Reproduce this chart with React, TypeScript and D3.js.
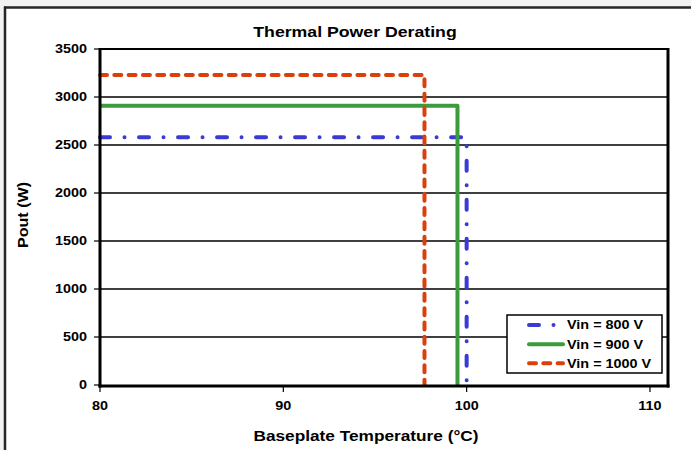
import React from "react";
import * as d3 from "d3";

const xTicks = [80, 90, 100, 110];
const yTicks = [0, 500, 1000, 1500, 2000, 2500, 3000, 3500];
const seriesNames = ["Vin = 800 V", "Vin = 900 V", "Vin = 1000 V"];
const temp800 = [80, 100, 100];
const pout800 = [2580, 2580, 0];
const temp900 = [80, 99.5, 99.5];
const pout900 = [2910, 2910, 0];
const temp1000 = [80, 97.7, 97.7];
const pout1000 = [3230, 3230, 0];

const W = 691;
const H = 450;
const FONT = "'Liberation Sans', Arial, sans-serif";
const SX = 1.2;

export default function App() {
  const x = d3.scaleLinear().domain([80, 111]).range([100, 668.3]);
  const y = d3.scaleLinear().domain([0, 3500]).range([385, 49]);
  const line = d3
    .line<[number, number]>()
    .x((d) => x(d[0]))
    .y((d) => y(d[1]));

  const series = [
    { name: seriesNames[0], t: temp800, p: pout800, color: "#3a3ad6", dash: "10,14.5,0.01,14.5" },
    { name: seriesNames[1], t: temp900, p: pout900, color: "#3c9b3c", dash: "" },
    { name: seriesNames[2], t: temp1000, p: pout1000, color: "#d9400c", dash: "7,7.3" },
  ];

  const txt = (
    tx: number,
    ty: number,
    s: string,
    size: number,
    anchor: string,
    sx: number = SX
  ) => (
    <text
      transform={`translate(${tx},${ty}) scale(${sx},1)`}
      fontFamily={FONT}
      fontWeight="bold"
      fontSize={size}
      textAnchor={anchor as any}
      fill="#000"
    >
      {s}
    </text>
  );

  const legX0 = 507;
  const legY0 = 315;
  const legRows = [325, 344.3, 363.3];

  return (
    <svg
      width={W}
      height={H}
      style={{ position: "absolute", left: 0, top: 0, display: "block" }}
    >
      <rect x={0} y={0} width={W} height={H} fill="#f2f2f2" />
      <rect x={5} y={8} width={W} height={H} fill="#ffffff" />
      <line x1={4} x2={W} y1={7.5} y2={7.5} stroke="#262626" strokeWidth={2.5} />
      <line x1={5} x2={5} y1={6.5} y2={H} stroke="#262626" strokeWidth={2.5} />

      {/* title */}
      {txt(355, 36.5, "Thermal Power Derating", 15, "middle", 1.18)}

      {/* gridlines */}
      {yTicks
        .filter((v) => v > 0 && v < 3500)
        .map((v) => (
          <line key={"g" + v} x1={100} x2={668} y1={y(v)} y2={y(v)} stroke="#000" strokeWidth={1.5} />
        ))}

      {/* y ticks + labels */}
      {yTicks.map((v) => (
        <g key={"yt" + v}>
          <line x1={94} x2={100} y1={y(v)} y2={y(v)} stroke="#000" strokeWidth={1.2} />
          {txt(87, y(v) + 4.3, String(v), 12, "end")}
        </g>
      ))}

      {/* x ticks + labels */}
      {xTicks.map((v) => (
        <g key={"xt" + v}>
          <line x1={x(v)} x2={x(v)} y1={386} y2={392} stroke="#000" strokeWidth={1.2} />
          {txt(x(v), 410, String(v), 12, "middle")}
        </g>
      ))}

      {/* series */}
      {series.map((s) => (
        <path
          key={s.name}
          d={line(s.t.map((t, i) => [t, s.p[i]] as [number, number])) || ""}
          fill="none"
          stroke={s.color}
          strokeWidth={4}
          strokeDasharray={s.dash || undefined}
          strokeLinecap={s.dash ? "round" : "butt"}
          strokeLinejoin="round"
        />
      ))}

      {/* plot border */}
      <line x1={100} x2={668} y1={49} y2={49} stroke="#000" strokeWidth={2} />
      <line x1={100} x2={100} y1={48} y2={387.5} stroke="#000" strokeWidth={3} />
      <line x1={98.5} x2={669.5} y1={386} y2={386} stroke="#000" strokeWidth={3} />
      <line x1={668} x2={668} y1={48} y2={387.5} stroke="#000" strokeWidth={3} />

      {/* legend */}
      <rect x={legX0} y={legY0} width={155} height={58} fill="#fff" stroke="#000" strokeWidth={1.5} />
      {series.map((s, i) => (
        <g key={"lg" + i}>
          <line
            x1={529}
            x2={563}
            y1={legRows[i]}
            y2={legRows[i]}
            stroke={s.color}
            strokeWidth={4}
            strokeDasharray={s.dash || undefined}
            strokeLinecap="round"
          />
          {txt(567, legRows[i] + 4.3, s.name, 12, "start")}
        </g>
      ))}

      {/* axis titles */}
      {txt(366, 441, "Baseplate Temperature (°C)", 15, "middle", 1.15)}
      <text
        transform={`translate(28,215) rotate(-90) scale(1.15,1)`}
        fontFamily={FONT}
        fontWeight="bold"
        fontSize={14}
        textAnchor="middle"
        fill="#000"
      >
        Pout (W)
      </text>
    </svg>
  );
}
